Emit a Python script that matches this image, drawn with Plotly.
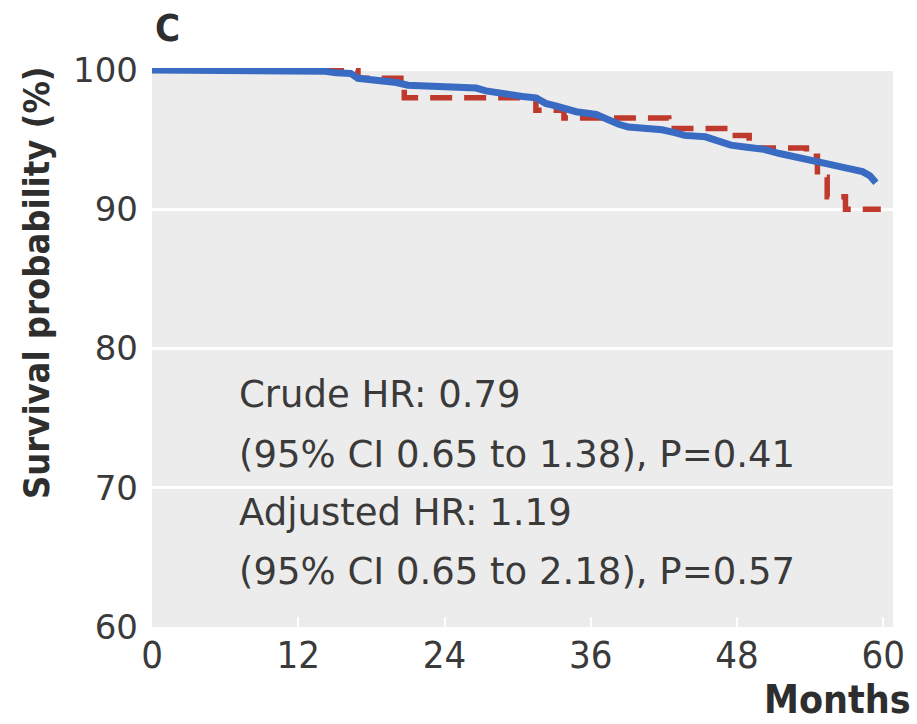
import plotly.graph_objects as go

# Blue curve (Kaplan-Meier, many small steps -> drawn as a fine polyline)
blue_months = [0, 12.2, 13.1, 14.2, 15.1, 16.3, 16.9, 18.1, 20.05, 21.0, 23.0, 25.0, 26.6, 27.4,
               28.3, 29.4, 30.4, 31.5, 32.3, 33.2, 34.8, 36.45, 37.4, 38.3, 39.1, 40.7, 41.85,
               42.9, 43.7, 45.4, 46.6, 47.5, 48.8, 50.2, 51.5, 52.9, 54.4, 55.7, 57.0, 58.3,
               58.9, 59.4]
blue_surv = [100, 100, 100, 99.9, 99.8, 99.75, 99.4, 99.3, 99.1, 98.9, 98.8, 98.8, 98.7, 98.5,
             98.35, 98.2, 98.1, 98.0, 97.6, 97.4, 97.0, 96.8, 96.4, 96.1, 95.9, 95.85, 95.7,
             95.5, 95.3, 95.2, 94.9, 94.6, 94.45, 94.3, 94.0, 93.7, 93.45, 93.2, 92.95, 92.7,
             92.4, 91.9]

# Red dashed curve (step function)
red_months = [0, 16.9, 20.7, 31.5, 33.8, 42.4, 47.6, 49.0, 53.7, 54.6, 55.4, 56.9, 59.8]
red_surv = [100, 99.4, 98.0, 97.1, 96.55, 95.8, 95.3, 94.4, 93.8, 92.3, 90.9, 90.0, 90.0]

x_ticks = [0, 12, 24, 36, 48, 60]
y_ticks = [60, 70, 80, 90, 100]

annot_lines = ["Crude HR: 0.79",
               "(95% CI 0.65 to 1.38), P=0.41",
               "Adjusted HR: 1.19",
               "(95% CI 0.65 to 2.18), P=0.57"]
annot_y = [76.66, 72.42, 68.19, 63.95]

# plot-area geometry (pixels) used to place paper-referenced labels
L, R, T, B = 152, 900, 68, 627
W, H = 917, 724


def px(x):
    return (x - L) / (R - L)


def py(y):
    return (B - y) / (B - T)


fig = go.Figure()
fig.add_trace(go.Scatter(x=red_months, y=red_surv, mode="lines", line_shape="hv",
                         line=dict(color="#c0392d", width=5.5, dash="22px,12px"),
                         cliponaxis=False, showlegend=False))
fig.add_trace(go.Scatter(x=blue_months, y=blue_surv, mode="lines", line_shape="linear",
                         line=dict(color="#3a6bc2", width=7),
                         cliponaxis=False, showlegend=False))

text_color = "#3a3a3a"
for t, yv in zip(annot_lines, annot_y):
    fig.add_annotation(x=7.0, y=yv, text=t, showarrow=False, xanchor="left", yanchor="middle",
                       font=dict(family="DejaVu Sans", size=37, color=text_color))

fig.add_annotation(x=px(153), y=py(28), xref="paper", yref="paper", text="<b>C</b>",
                   showarrow=False, xanchor="left", yanchor="middle",
                   font=dict(family="DejaVu Sans Condensed", size=38, color="#2e2e2e"))
fig.add_annotation(x=px(35), y=py(283), xref="paper", yref="paper",
                   text="<b>Survival probability (%)</b>", textangle=-90,
                   showarrow=False, xanchor="center", yanchor="middle",
                   font=dict(family="DejaVu Sans Condensed", size=36, color="#2e2e2e"))
fig.add_annotation(x=px(920), y=py(699), xref="paper", yref="paper",
                   text="<b>Months</b>", showarrow=False, xanchor="right", yanchor="middle",
                   font=dict(family="DejaVu Sans Condensed", size=39, color="#2e2e2e"))

fig.update_layout(
    width=W, height=H,
    margin=dict(l=L, r=W - R, t=T, b=H - B),
    paper_bgcolor="white", plot_bgcolor="#ececec",
    xaxis=dict(range=[0, 60.8], tickvals=x_ticks, ticktext=[str(v) for v in x_ticks],
               showgrid=False, zeroline=False, ticks="inside", ticklen=10, tickwidth=2,
               tickcolor="white", ticklabelstandoff=2,
               tickfont=dict(family="DejaVu Sans Condensed", size=38, color=text_color)),
    yaxis=dict(range=[60, 100.14], tickvals=y_ticks, ticktext=[str(v) for v in y_ticks],
               showgrid=True, gridcolor="white", gridwidth=3, zeroline=False,
               ticks="", ticklabelstandoff=13,
               tickfont=dict(family="DejaVu Sans", size=34, color=text_color)),
)

fig.write_html("out.html")
